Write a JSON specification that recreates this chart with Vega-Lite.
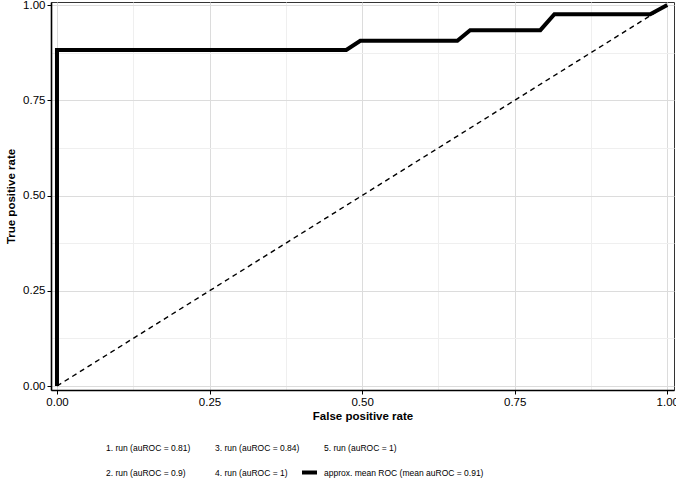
{
  "$schema": "https://vega.github.io/schema/vega-lite/v6.json",
  "width": 623,
  "height": 388,
  "autosize": {"type": "none"},
  "padding": {"left": 51, "top": 2, "right": 2, "bottom": 100},
  "background": "white",
  "config": {
    "font": "Liberation Sans",
    "view": {"stroke": "#333333", "strokeWidth": 1},
    "axis": {
      "labelFont": "Liberation Sans",
      "titleFont": "Liberation Sans",
      "labelFontSize": 11.5,
      "titleFontSize": 11.5,
      "titleFontWeight": "bold",
      "labelColor": "black",
      "titleColor": "black",
      "domainColor": "black",
      "domainWidth": 1.6,
      "tickColor": "black",
      "tickSize": 4,
      "tickWidth": 1,
      "labelPadding": 2,
      "gridWidth": 1
    },
    "legend": {
      "labelFont": "Liberation Sans",
      "labelFontSize": 8.5,
      "labelColor": "black"
    }
  },
  "datasets": {
    "mean": [
      {"fpr": 0.0, "tpr": 0.0, "series": "approx. mean ROC (mean auROC = 0.91)"},
      {"fpr": 0.0, "tpr": 0.882, "series": "approx. mean ROC (mean auROC = 0.91)"},
      {"fpr": 0.474, "tpr": 0.882, "series": "approx. mean ROC (mean auROC = 0.91)"},
      {"fpr": 0.497, "tpr": 0.906, "series": "approx. mean ROC (mean auROC = 0.91)"},
      {"fpr": 0.656, "tpr": 0.906, "series": "approx. mean ROC (mean auROC = 0.91)"},
      {"fpr": 0.677, "tpr": 0.934, "series": "approx. mean ROC (mean auROC = 0.91)"},
      {"fpr": 0.792, "tpr": 0.934, "series": "approx. mean ROC (mean auROC = 0.91)"},
      {"fpr": 0.815, "tpr": 0.976, "series": "approx. mean ROC (mean auROC = 0.91)"},
      {"fpr": 0.972, "tpr": 0.976, "series": "approx. mean ROC (mean auROC = 0.91)"},
      {"fpr": 1.0, "tpr": 1.0, "series": "approx. mean ROC (mean auROC = 0.91)"}
    ],
    "diag": [
      {"fpr": 0.0, "tpr": 0.0},
      {"fpr": 1.0, "tpr": 1.0}
    ]
  },
  "layer": [
    {
      "data": {"name": "diag"},
      "mark": {"type": "line", "color": "black", "strokeWidth": 1.4, "strokeDash": [5, 4]},
      "encoding": {
        "x": {
          "field": "fpr", "type": "quantitative",
          "scale": {"domain": [-0.0098, 1.011], "nice": false, "zero": false},
          "axis": {
            "title": "False positive rate",
            "values": [0, 0.125, 0.25, 0.375, 0.5, 0.625, 0.75, 0.875, 1],
            "labelExpr": "datum.value % 0.25 === 0 ? format(datum.value, '.2f') : ''",
            "tickOpacity": {"condition": {"test": "datum.value % 0.25 === 0", "value": 1}, "value": 0},
            "gridColor": {"condition": {"test": "datum.value % 0.25 === 0", "value": "#dcdcdc"}, "value": "#efefef"},
            "titlePadding": 3,
            "labelFlush": false
          }
        },
        "y": {
          "field": "tpr", "type": "quantitative",
          "scale": {"domain": [-0.0105, 1.008], "nice": false, "zero": false},
          "axis": {
            "title": "True positive rate",
            "values": [0, 0.125, 0.25, 0.375, 0.5, 0.625, 0.75, 0.875, 1],
            "labelExpr": "datum.value % 0.25 === 0 ? format(datum.value, '.2f') : ''",
            "tickOpacity": {"condition": {"test": "datum.value % 0.25 === 0", "value": 1}, "value": 0},
            "gridColor": {"condition": {"test": "datum.value % 0.25 === 0", "value": "#dcdcdc"}, "value": "#efefef"},
            "titlePadding": 6,
            "labelFlush": false
          }
        }
      }
    },
    {
      "data": {"name": "mean"},
      "mark": {"type": "line", "strokeWidth": 4, "strokeJoin": "miter"},
      "encoding": {
        "x": {"field": "fpr", "type": "quantitative"},
        "y": {"field": "tpr", "type": "quantitative"},
        "color": {
          "field": "series", "type": "nominal",
          "scale": {
            "domain": [
              "1. run (auROC = 0.81)",
              "3. run (auROC = 0.84)",
              "5. run (auROC = 1)",
              "2. run (auROC = 0.9)",
              "4. run (auROC = 1)",
              "approx. mean ROC (mean auROC = 0.91)"
            ],
            "range": ["transparent", "transparent", "transparent", "transparent", "transparent", "black"]
          },
          "legend": {
            "title": null,
            "orient": "none",
            "legendX": 31,
            "legendY": 436,
            "direction": "horizontal",
            "columns": 3,
            "columnPadding": -10,
            "rowPadding": 7,
            "symbolType": "stroke",
            "symbolSize": 225,
            "symbolStrokeWidth": 4,
            "labelOffset": 5,
            "labelLimit": 300,
            "gridAlign": "each"
          }
        }
      }
    }
  ]
}
